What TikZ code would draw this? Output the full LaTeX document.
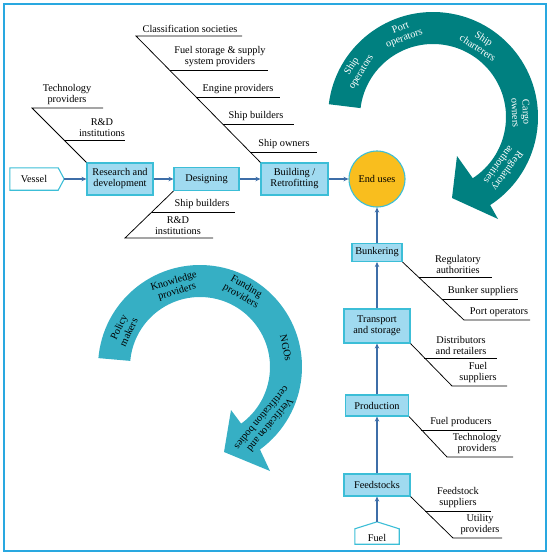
\documentclass[tikz,border=0pt]{standalone}
\usepackage{fontspec}
\setmainfont{Liberation Serif}
\usetikzlibrary{arrows.meta,shapes.geometric}
\definecolor{boxfill}{RGB}{160,218,240}
\definecolor{boxdraw}{RGB}{60,190,215}
\definecolor{arrowc}{RGB}{62,110,168}
\definecolor{darkteal}{RGB}{0,128,128}
\definecolor{lightteal}{RGB}{54,175,196}
\definecolor{euyellow}{RGB}{249,190,30}
\definecolor{framec}{RGB}{41,168,224}
\newcommand{\myfs}{\fontsize{10.3}{11}\selectfont}
\begin{document}
\begin{tikzpicture}[x=1pt,y=-1pt,
  stagebox/.style={draw=boxdraw, fill=boxfill, line width=1.1pt, align=center, font=\myfs, inner sep=0pt},
  flow/.style={-{Stealth[length=5pt,width=4.5pt]}, draw=arrowc, line width=1.1pt},
  bone/.style={draw=black, line width=0.75pt},
  lbl/.style={align=center, font=\myfs, inner sep=1pt, anchor=south},
  arclblw/.style={align=center, font=\myfs, text=white, inner sep=0pt},
  arclblb/.style={align=center, font=\myfs, text=black, inner sep=0pt}]
\useasboundingbox (0,0) rectangle (550,555);
\draw[framec, line width=1.5pt] (4,4) rectangle (546,551);

% ---- top-right dark teal arc
\begin{scope}[shift={(433,117)}, yscale=-1]
  \fill[darkteal] (173:105) arc[start angle=173, end angle=-57, radius=105]
     -- (65,-102) -- (19,-81) -- (24,-39) -- (-57:73)
     arc[start angle=-57, end angle=173, radius=73] -- cycle;
  \node[arclblw, rotate=58] (a1) at (148:90) {Ship\\operators};
  \node[arclblw, rotate=20] (a2) at (110:89) {Port\\operators};
  \node[arclblw, rotate=-33] (a3) at (57:88) {Ship\\charterers};
  \node[arclblw, rotate=-87] (a4) at (3:88) {Cargo\\owners};
  \node[arclblw, rotate=-126] (a5) at (-36:87) {Regulatory\\authorities};
\end{scope}

% ---- left light teal arc
\begin{scope}[shift={(200,367)}, yscale=-1]
  \fill[lightteal] (175:102) arc[start angle=175, end angle=-54, radius=102]
     -- (70,-104) -- (24,-85) -- (31,-43) -- (-54:70)
     arc[start angle=-54, end angle=175, radius=70] -- cycle;
  \node[arclblb, rotate=64] (c1) at (154:85) {Policy\\makers};
  \node[arclblb, rotate=17] (c2) at (107:84) {Knowledge\\providers};
  \node[arclblb, rotate=-30] (c3) at (60:87) {Funding\\providers};
  \node[arclblb, rotate=-77.5] (c4) at (12.5:88) {NGOs};
  \node[arclblb, rotate=-129.5] (c5) at (-39.5:86) {Verification and\\certification bodies};
\end{scope}

% ---- vessel chain
\node[font=\myfs, minimum width=48pt, minimum height=22pt, inner sep=0pt] (ves) at (34,179) {};
\draw[draw=boxdraw, fill=white, line width=1.1pt] (ves.south west) -- (ves.north west) -- (ves.north east)
   -- ([xshift=6pt]ves.east) -- (ves.south east) -- cycle;
\node[font=\myfs, inner sep=0pt] (vestxt) at (ves.center) {Vessel};
\coordinate (vestip) at ([xshift=6pt]ves.east);

\node[stagebox, minimum width=66pt, minimum height=32pt] (rd) at (120,179) {Research and\\development};
\node[stagebox, minimum width=65pt, minimum height=23pt] (des) at (206.5,179) {Designing};
\node[stagebox, minimum width=67pt, minimum height=32pt] (bld) at (294.5,179) {Building /\\Retrofitting};
\node[circle, draw=boxdraw, fill=euyellow, line width=1.1pt, minimum size=56pt, inner sep=0pt, font=\myfs] (eu) at (377,179) {End uses};

\draw[flow] (vestip) -- (rd.west);
\draw[flow] (rd.east) -- (des.west);
\draw[flow] (des.east) -- (bld.west);
\draw[flow] (bld.east) -- (eu.west);

% ---- fuel chain
\node[stagebox, minimum width=50pt, minimum height=18pt] (bunk) at (377,252.5) {Bunkering};
\node[stagebox, minimum width=66pt, minimum height=34pt] (trans) at (377,326) {Transport\\and storage};
\node[stagebox, minimum width=63pt, minimum height=21pt] (prod) at (377,405.5) {Production};
\node[stagebox, minimum width=66pt, minimum height=22pt] (feed) at (377,485) {Feedstocks};
\node[font=\myfs, minimum width=44pt, minimum height=15pt, inner sep=0pt] (fuel) at (377,536.5) {};
\draw[draw=boxdraw, fill=white, line width=1.1pt] (fuel.south west) -- (fuel.north west)
   -- ([yshift=7pt]fuel.north) -- (fuel.north east) -- (fuel.south east) -- cycle;
\node[font=\myfs, inner sep=0pt] (fueltxt) at ([yshift=-1pt]fuel.center) {Fuel};
\coordinate (fueltip) at ([yshift=7pt]fuel.north);

\draw[flow] (fueltip) -- (feed.south);
\draw[flow] (feed.north) -- (prod.south);
\draw[flow] (prod.north) -- (trans.south);
\draw[flow] (trans.north) -- (bunk.south);
\draw[flow] (bunk.north) -- (eu.south);

% ---- fishbones: research and development
\coordinate (rd1) at (32,108); \coordinate (rd1e) at (103,108);
\coordinate (rd2) at (64,140); \coordinate (rd2e) at (125,140);
\draw[bone] (rd.north west) -- (rd1) -- (rd1e);
\draw[bone] (rd2) -- (rd2e);
\node[lbl] (l1) at (67,106) {Technology\\providers};
\node[lbl] (l2) at (102,138) {R\&D\\institutions};

% designing
\coordinate (de1) at (152,212); \coordinate (de1e) at (235,212);
\coordinate (de2) at (125,238); \coordinate (de2e) at (213,238);
\draw[bone] (des.south west) -- (de2) -- (de2e);
\draw[bone] (de1) -- (de1e);
\node[lbl] (l3) at (202,210) {Ship builders};
\node[lbl] (l4) at (178,236) {R\&D\\institutions};

% building
\coordinate (b1) at (136,36); \coordinate (b1e) at (242,36);
\coordinate (b2) at (169.5,70); \coordinate (b2e) at (268,70);
\coordinate (b3) at (196,97); \coordinate (b3e) at (280,97);
\coordinate (b4) at (222.6,124); \coordinate (b4e) at (294,124);
\coordinate (b5) at (250.2,152); \coordinate (b5e) at (317,152);
\draw[bone] (bld.north west) -- (b1) -- (b1e);
\draw[bone] (b2) -- (b2e);
\draw[bone] (b3) -- (b3e);
\draw[bone] (b4) -- (b4e);
\draw[bone] (b5) -- (b5e);
\node[lbl] (l5) at (190,34) {Classification societies};
\node[lbl] (l6) at (220,68) {Fuel storage \& supply\\system providers};
\node[lbl] (l7) at (238,95) {Engine providers};
\node[lbl] (l8) at (256,122) {Ship builders};
\node[lbl] (l9) at (284,150) {Ship owners};

% bunkering
\coordinate (u1) at (419,277); \coordinate (u1e) at (492,277);
\coordinate (u2) at (441.8,299); \coordinate (u2e) at (518,299);
\coordinate (u3) at (464,320); \coordinate (u3e) at (530,320);
\draw[bone] (bunk.south east) -- (u3) -- (u3e);
\draw[bone] (u1) -- (u1e);
\draw[bone] (u2) -- (u2e);
\node[lbl] (l10) at (458,275) {Regulatory\\authorities};
\node[lbl] (l11) at (483,297) {Bunker suppliers};
\node[lbl] (l12) at (499,318) {Port operators};

% transport
\coordinate (t1) at (424,358); \coordinate (t1e) at (497,358);
\coordinate (t2) at (452,386); \coordinate (t2e) at (507,386);
\draw[bone] (trans.south east) -- (t2) -- (t2e);
\draw[bone] (t1) -- (t1e);
\node[lbl] (l13) at (461,356) {Distributors\\and retailers};
\node[lbl] (l14) at (478,384) {Fuel\\suppliers};

% production
\coordinate (p1) at (421,430); \coordinate (p1e) at (497,430);
\coordinate (p2) at (447,457); \coordinate (p2e) at (513,457);
\draw[bone] (prod.south east) -- (p2) -- (p2e);
\draw[bone] (p1) -- (p1e);
\node[lbl] (l15) at (461,428) {Fuel producers};
\node[lbl] (l16) at (477,455) {Technology\\providers};

% feedstocks
\coordinate (f1) at (425,511); \coordinate (f1e) at (491,511);
\coordinate (f2) at (453,538); \coordinate (f2e) at (502,538);
\draw[bone] (feed.south east) -- (f2) -- (f2e);
\draw[bone] (f1) -- (f1e);
\node[lbl] (l17) at (458,509) {Feedstock\\suppliers};
\node[lbl] (l18) at (480,536) {Utility\\providers};
\end{tikzpicture}
\end{document}
